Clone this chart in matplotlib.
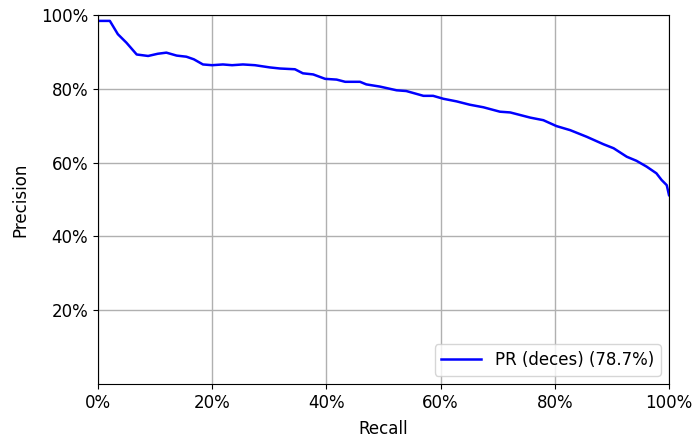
import matplotlib
matplotlib.use("Agg")
import matplotlib.pyplot as plt
from matplotlib.ticker import PercentFormatter

recall = [0.0, 0.021, 0.035, 0.050, 0.068, 0.088, 0.105, 0.120, 0.138, 0.155, 0.168,
          0.184, 0.200, 0.219, 0.235, 0.254, 0.275, 0.301, 0.319, 0.345, 0.359, 0.377,
          0.398, 0.418, 0.433, 0.459, 0.470, 0.494, 0.523, 0.540, 0.570, 0.587, 0.605,
          0.628, 0.651, 0.675, 0.704, 0.722, 0.757, 0.780, 0.803, 0.827, 0.856, 0.885,
          0.903, 0.926, 0.943, 0.961, 0.978, 0.987, 0.996, 1.0]
precision = [0.984, 0.984, 0.948, 0.925, 0.893, 0.889, 0.895, 0.898, 0.890, 0.887, 0.880,
             0.866, 0.864, 0.866, 0.864, 0.866, 0.864, 0.858, 0.855, 0.853, 0.842, 0.839,
             0.827, 0.825, 0.819, 0.819, 0.812, 0.806, 0.796, 0.794, 0.781, 0.781, 0.773,
             0.766, 0.757, 0.750, 0.738, 0.736, 0.722, 0.715, 0.699, 0.688, 0.670, 0.650,
             0.639, 0.616, 0.605, 0.589, 0.571, 0.553, 0.539, 0.512]
label = "PR (deces) (78.7%)"

fig = plt.figure(figsize=(6.94, 4.41), dpi=100)
ax = fig.add_axes([0.141, 0.129, 0.823, 0.837])
ax.plot(recall, precision, color="blue", lw=1.8, label=label)
ax.set_xlim(0, 1)
ax.set_ylim(0, 1)
ax.set_xticks([0, 0.2, 0.4, 0.6, 0.8, 1.0])
ax.set_yticks([0.2, 0.4, 0.6, 0.8, 1.0])
ax.xaxis.set_major_formatter(PercentFormatter(1.0, decimals=0))
ax.yaxis.set_major_formatter(PercentFormatter(1.0, decimals=0))
ax.grid(True, color="#b0b0b0", lw=1)
ax.tick_params(labelsize=12)
ax.set_xlabel("Recall", fontsize=12, labelpad=6)
ax.set_ylabel("Precision", fontsize=12, labelpad=8)
ax.legend(loc="lower right", fontsize=12, handlelength=2.4)
fig.savefig("out.png", dpi=100)
